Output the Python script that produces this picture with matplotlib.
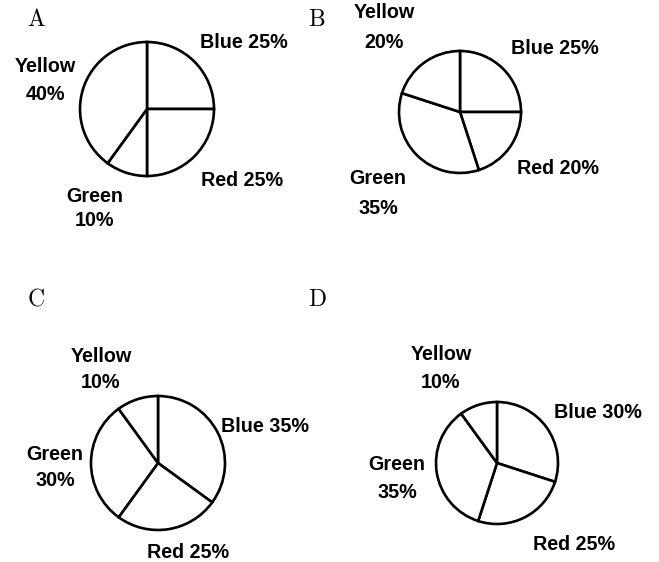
import matplotlib.pyplot as plt

W, H = 659, 562

names = ["Blue", "Red", "Green", "Yellow"]
panels = ["A", "B", "C", "D"]
shares = {
    "A": [25, 25, 10, 40],
    "B": [25, 20, 35, 20],
    "C": [35, 25, 30, 10],
    "D": [30, 25, 35, 10],
}

# layout in pixel coords (y down from top)
pie_pos = {"A": (147, 109, 67), "B": (460, 112, 61), "C": (158, 463, 67), "D": (497, 463, 61)}
letter_pos = {"A": (36, 20), "B": (317, 20), "C": (36, 300), "D": (317, 300)}
# per label: (x, y) for one-line, or (x, y1, y2) for two-line
label_pos = {
    "A": {"Blue": (244, 42), "Red": (242, 180), "Green": (95, 196, 220), "Yellow": (45, 67, 95)},
    "B": {"Blue": (555, 48), "Red": (558, 168), "Green": (378, 179, 208), "Yellow": (384, 13, 43)},
    "C": {"Blue": (265, 426), "Red": (188, 552), "Green": (55, 454, 481), "Yellow": (101, 356, 382)},
    "D": {"Blue": (598, 413), "Red": (574, 545), "Green": (397, 464, 493), "Yellow": (441, 355, 383)},
}

fig = plt.figure(figsize=(W / 100, H / 100), dpi=100)
ax = fig.add_axes([0, 0, 1, 1])

lab_font = dict(family="Liberation Sans", fontweight="bold", fontsize=14.2,
                ha="center", va="center")

for p in panels:
    cx, cy, r = pie_pos[p]
    ax.pie(shares[p], center=(cx, H - cy), radius=r, startangle=90,
           counterclock=False, colors=["white"] * 4,
           wedgeprops=dict(edgecolor="black", linewidth=1.9))
    lx, ly = letter_pos[p]
    ax.text(lx, H - ly, p, family="cmr10", fontsize=17, ha="center", va="center")
    for name, v in zip(names, shares[p]):
        pos = label_pos[p][name]
        if len(pos) == 2:
            ax.text(pos[0], H - pos[1], f"{name} {v}%", **lab_font)
        else:
            ax.text(pos[0], H - pos[1], name, **lab_font)
            ax.text(pos[0], H - pos[2], f"{v}%", **lab_font)

ax.set_xlim(0, W)
ax.set_ylim(0, H)
ax.set_aspect("equal")
ax.axis("off")

fig.savefig("out.png", dpi=100)
